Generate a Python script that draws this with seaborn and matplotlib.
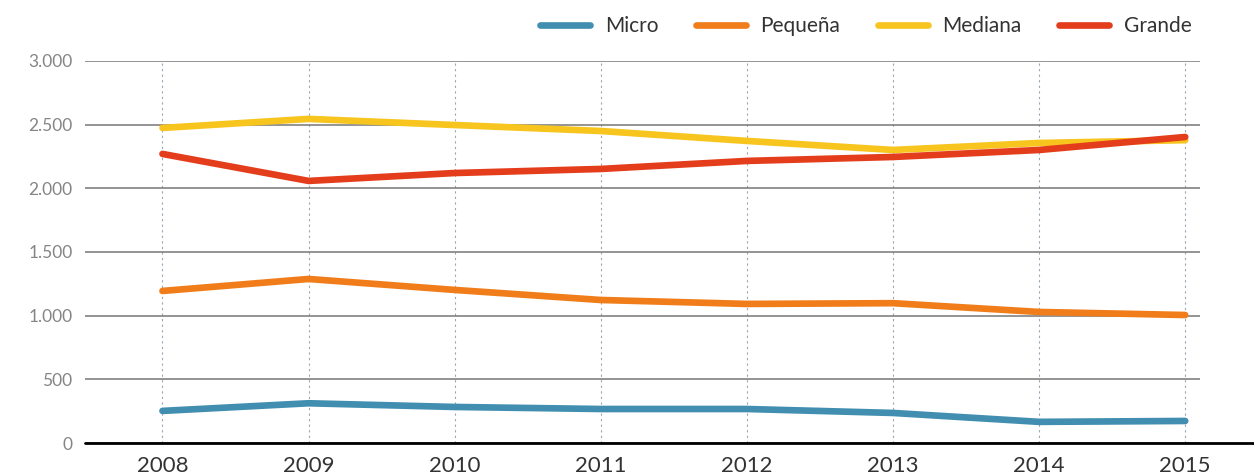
import pandas as pd
import seaborn as sns
import matplotlib.pyplot as plt
from matplotlib.ticker import FuncFormatter
from matplotlib.lines import Line2D

years = [2008, 2009, 2010, 2011, 2012, 2013, 2014, 2015]
micro = [252, 312, 283, 267, 267, 236, 166, 173]
pequena = [1194, 1288, 1202, 1123, 1092, 1098, 1029, 1005]
mediana = [2474, 2545, 2497, 2450, 2372, 2301, 2356, 2378]
grande = [2270, 2058, 2120, 2152, 2215, 2246, 2301, 2403]
series = ["Micro", "Pequeña", "Mediana", "Grande"]
colors = ["#418eb0", "#f07d1a", "#f7c51e", "#e43d1c"]

df = pd.DataFrame({
    "year": years * 4,
    "value": micro + pequena + mediana + grande,
    "serie": [s for s in series for _ in years],
})

sns.set_style("white")
plt.rcParams["font.family"] = ["Lato", "DejaVu Sans"]

fig = plt.figure(figsize=(12.54, 4.74), dpi=100)
ax = fig.add_axes([0.0678, 0.0654, 0.889, 0.806])

sns.lineplot(data=df, x="year", y="value", hue="serie", hue_order=series,
             palette=colors, linewidth=4.8, ax=ax, legend=False)

ax.set_xlim(2007.47, 2015.1)
ax.set_ylim(0, 3000)
ax.set_xticks(years)
ax.set_yticks(range(0, 3001, 500))
ax.yaxis.set_major_formatter(FuncFormatter(lambda v, p: f"{int(v):,}".replace(",", ".")))
ax.set_xlabel("")
ax.set_ylabel("")

ax.grid(axis="y", color="#777777", linewidth=1.1)
for y in years:
    ax.axvline(y, color="#9aa6b4", linestyle=(0, (2, 3)), linewidth=0.8, zorder=0)
ax.set_axisbelow(True)

for side in ["top", "right", "left", "bottom"]:
    ax.spines[side].set_visible(False)
ax.add_line(Line2D([0, 1.07], [0, 0], transform=ax.transAxes, color="black",
                   linewidth=2, clip_on=False, zorder=5))

ax.tick_params(axis="y", length=0, labelsize=12.5, labelcolor="#858585", pad=9)
ax.tick_params(axis="x", length=0, labelsize=16, labelcolor="#333333", pad=9)

handles = [Line2D([], [], color=c, linewidth=4.8) for c in colors]
fig.legend(handles, series, loc="center right", bbox_to_anchor=(0.965, 0.945),
           ncol=4, frameon=False, fontsize=15, handlelength=2.4,
           columnspacing=1.8, handletextpad=0.7, labelcolor="#333333")

fig.savefig("out.png", dpi=100)
